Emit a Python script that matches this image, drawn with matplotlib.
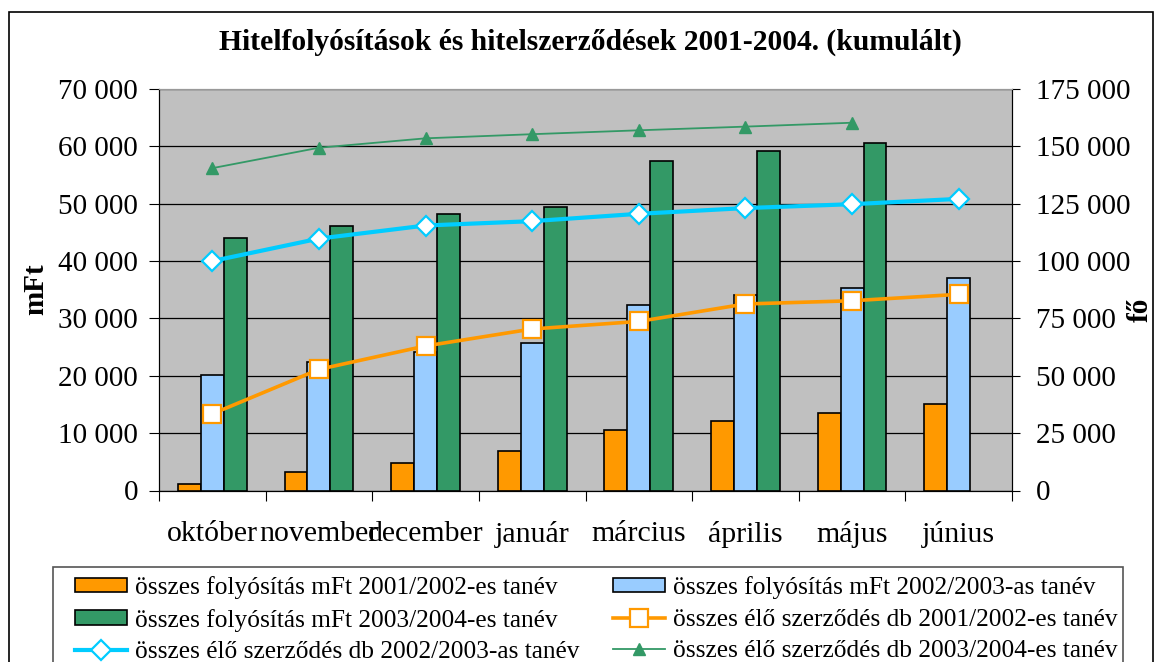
import numpy as np
import matplotlib
matplotlib.use("Agg")
import matplotlib.pyplot as plt
from matplotlib.patches import Rectangle
from matplotlib.ticker import FuncFormatter, MultipleLocator

# data
months = ["október", "november", "december", "január", "március", "április", "május", "június"]
foly_0102 = [1200, 3200, 4800, 6900, 10500, 12100, 13500, 15100]
foly_0203 = [20100, 22400, 24100, 25700, 32400, 34000, 35300, 37000]
foly_0304 = [44000, 46200, 48200, 49500, 57500, 59200, 60600, np.nan]
szerz_0102 = [33400, 52800, 63000, 70400, 73700, 81300, 82700, 85500]
szerz_0203 = [100000, 109800, 115500, 117400, 120600, 123100, 124800, 127100]
szerz_0304 = [140500, 149400, 153500, 155300, 157000, 158600, 160300, np.nan]

series_labels = [
    "összes folyósítás mFt 2001/2002-es tanév",
    "összes folyósítás mFt 2002/2003-as tanév",
    "összes folyósítás mFt 2003/2004-es tanév",
    "összes élő szerződés db 2001/2002-es tanév",
    "összes élő szerződés db 2002/2003-as tanév",
    "összes élő szerződés db 2003/2004-es tanév",
]

plt.rcParams["font.family"] = ["Liberation Serif", "DejaVu Serif"]

W, H = 1156, 662
fig = plt.figure(figsize=(W / 100, H / 100), dpi=100)
ax = fig.add_axes([159 / W, 1 - 490.5 / H, (1012 - 159) / W, (490.5 - 89) / H])
ax2 = ax.twinx()

x = np.arange(len(months))
w = 0.215
orange, blue, green, cyan = "#FF9900", "#99CCFF", "#339966", "#00CCFF"

ax.set_facecolor("#C0C0C0")
ax.bar(x - w, foly_0102, w, color=orange, edgecolor="black", linewidth=1.2, zorder=3)
ax.bar(x, foly_0203, w, color=blue, edgecolor="black", linewidth=1.2, zorder=3)
ax.bar(x + w, foly_0304, w, color=green, edgecolor="black", linewidth=1.2, zorder=3)

ax.set_xlim(-0.5, len(months) - 0.5)
ax.set_ylim(0, 70000)
ax.yaxis.set_major_locator(MultipleLocator(10000))
ax.grid(axis="y", color="black", linewidth=0.9, zorder=1)
ax.set_axisbelow(True)

fmt = FuncFormatter(lambda v, p: f"{int(v):,}".replace(",", " "))
ax.yaxis.set_major_formatter(fmt)

ax.set_xticks(np.arange(len(months) + 1) - 0.5, minor=False)
ax.set_xticklabels([])
ax.set_xticks(x, minor=True)
ax.set_xticklabels(months, minor=True, fontsize=21.5)
ax.tick_params(axis="x", which="major", length=7, direction="out")
ax.tick_params(axis="x", which="minor", length=0, pad=22)
ax.tick_params(axis="y", length=7, labelsize=21, pad=8)

# lines on the right axis
ax2.plot(x, szerz_0102, color=orange, linewidth=2.6, marker="s", markersize=12.5,
         markerfacecolor="white", markeredgecolor=orange, markeredgewidth=1.6, zorder=4)
ax2.plot(x, szerz_0203, color=cyan, linewidth=3, marker="D", markersize=10,
         markerfacecolor="white", markeredgecolor=cyan, markeredgewidth=1.6, zorder=4)
ax2.plot(x, szerz_0304, color=green, linewidth=1.3, marker="^", markersize=9,
         markerfacecolor=green, markeredgecolor=green, zorder=4)
ax2.set_ylim(0, 175000)
ax2.yaxis.set_major_locator(MultipleLocator(25000))
ax2.yaxis.set_major_formatter(fmt)
ax2.tick_params(axis="y", length=6, labelsize=21, pad=11)

for a in (ax, ax2):
    a.spines["top"].set_color("#999999")
    a.spines["left"].set_color("black")
    a.spines["right"].set_color("black")
    a.spines["bottom"].set_color("black")

fig.text(36 / W, 1 - 289 / H, "mFt", rotation=90, fontsize=21, fontweight="bold",
         ha="center", va="center")
fig.text(1140 / W, 1 - 310 / H, "fő", rotation=90, fontsize=21, fontweight="bold",
         ha="center", va="center")
fig.text(590 / W, 1 - 42 / H, "Hitelfolyósítások és hitelszerződések 2001-2004. (kumulált)",
         fontsize=21.3, fontweight="bold", ha="center", va="center")

# outer chart frame and legend frame
fig.patches.append(Rectangle((9 / W, -0.1), (1153 - 9) / W, 1.1 - 12 / H,
                             transform=fig.transFigure, fill=False,
                             edgecolor="black", linewidth=1.2))
fig.patches.append(Rectangle((53 / W, -0.1), (1123 - 53) / W, 0.1 + 1 - 567 / H,
                             transform=fig.transFigure, fill=False,
                             edgecolor="#555555", linewidth=1.2))

# legend in two columns
bars = ax.containers
lines = ax2.get_lines()
cols = [
    ([bars[0], bars[2], lines[1]], [series_labels[0], series_labels[2], series_labels[4]], 75),
    ([bars[1], lines[0], lines[2]], [series_labels[1], series_labels[3], series_labels[5]], 613),
]
for hs, ls, xl in cols:
    fig.legend(hs, ls, loc="upper left", bbox_to_anchor=(xl / W, 1 - 576 / H),
               fontsize=18.3, frameon=False, handlelength=2.05, handleheight=0.5,
               handletextpad=0.3, labelspacing=0.38, borderaxespad=0, borderpad=0)

fig.savefig("out.png", dpi=100)
